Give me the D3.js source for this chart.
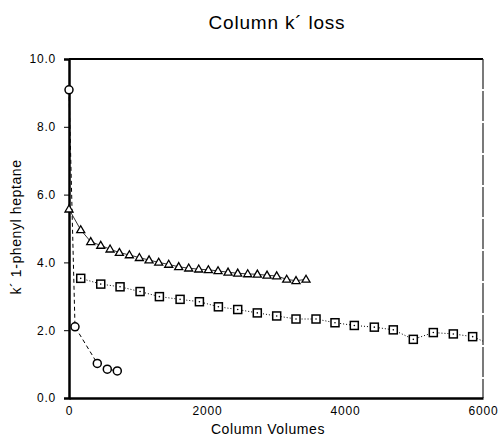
<!DOCTYPE html>
<html>
<head>
<meta charset="UTF-8">
<title>Column k' loss</title>
<style>
  body { margin: 0; background: #fff; }
  svg { font-family: "Liberation Sans", Arial, sans-serif; }
  .axis path, .axis line { stroke: #000; }
  .axis text { font-size: 12px; fill: #000; letter-spacing: 0.8px; }
</style>
</head>
<body>
<script src="https://d3js.org/d3.v7.min.js"></script>
<script>
// circles, dashed line
var circleX = [0, 87, 410, 555, 700];
var circleY = [9.09, 2.1, 1.02, 0.85, 0.8];

// triangles, thin solid line
var triX = [0, 170, 315, 460, 595, 730, 875, 1020, 1160, 1300, 1445, 1590, 1735,
            1880, 2020, 2160, 2305, 2445, 2590, 2730, 2870, 3010, 3155, 3290, 3435];
var triY = [5.57, 4.96, 4.61, 4.50, 4.39, 4.29, 4.22, 4.14, 4.07, 4.00, 3.94, 3.87, 3.83,
            3.80, 3.78, 3.75, 3.71, 3.68, 3.66, 3.65, 3.62, 3.60, 3.50, 3.46, 3.50];

// squares, dotted line (last point lies past the axis end)
var sqX = [170, 460, 740, 1030, 1310, 1610, 1890, 2165, 2445, 2729, 3010, 3290,
           3580, 3855, 4135, 4425, 4700, 4990, 5280, 5570, 5850, 6200];
var sqY = [3.53, 3.36, 3.28, 3.14, 2.99, 2.91, 2.84, 2.69, 2.61, 2.51, 2.42, 2.33,
           2.33, 2.22, 2.14, 2.09, 2.01, 1.73, 1.93, 1.89, 1.81, 1.50];

var xTicks = [0, 2000, 4000, 6000];
var yTicks = [0, 2, 4, 6, 8, 10];

var W = 501, H = 436;
var margin = {top: 59, right: 18, bottom: 38, left: 69};
var width = W - margin.left - margin.right;
var height = H - margin.top - margin.bottom;

var svg = d3.select("body").append("svg")
    .attr("width", W).attr("height", H);

var g = svg.append("g")
    .attr("transform", "translate(" + margin.left + "," + margin.top + ")");

var x = d3.scaleLinear().domain([0, 6000]).range([0, width]);
var y = d3.scaleLinear().domain([0, 10]).range([height, 0]);

// clip only at the right edge
svg.append("defs").append("clipPath").attr("id", "plot")
  .append("rect").attr("x", -20).attr("y", -20).attr("width", width + 20).attr("height", height + 40);

// frame top and right
g.append("line").attr("x1", 0).attr("x2", width).attr("y1", 0).attr("y2", 0)
  .attr("stroke", "#000").attr("stroke-width", 2);
g.append("line").attr("x1", width).attr("x2", width).attr("y1", 0).attr("y2", height)
  .attr("stroke", "#222").attr("stroke-width", 1.2).attr("stroke-dasharray", "30,2");

var xAxis = d3.axisBottom(x).tickValues(xTicks).tickSize(0).tickPadding(8)
  .tickFormat(d3.format("d"));
var yAxis = d3.axisLeft(y).tickValues(yTicks).tickSize(5).tickPadding(8)
  .tickFormat(d3.format(".1f"));

var gx = g.append("g").attr("class", "axis")
  .attr("transform", "translate(0," + height + ")").call(xAxis);
gx.select(".domain").attr("stroke-width", 2.5);

var gy = g.append("g").attr("class", "axis").call(yAxis);
gy.select(".domain").attr("stroke-width", 2.5);

function pts(xs, ys) { return xs.map(function(d, i) { return [d, ys[i]]; }); }
var line = d3.line().x(function(d) { return x(d[0]); }).y(function(d) { return y(d[1]); });

var plot = g.append("g").attr("clip-path", "url(#plot)");

var circles = pts(circleX, circleY);
var tris = pts(triX, triY);
var squares = pts(sqX, sqY);

plot.append("path").attr("d", line(circles)).attr("fill", "none")
  .attr("stroke", "#000").attr("stroke-width", 1).attr("stroke-dasharray", "4,3");
plot.append("path").attr("d", line(tris)).attr("fill", "none")
  .attr("stroke", "#000").attr("stroke-width", 0.8);
plot.append("path").attr("d", line(squares)).attr("fill", "none")
  .attr("stroke", "#000").attr("stroke-width", 1).attr("stroke-dasharray", "1,2");

plot.selectAll(".c").data(circles).enter().append("circle")
  .attr("cx", function(d) { return x(d[0]); })
  .attr("cy", function(d) { return y(d[1]); })
  .attr("r", 4).attr("fill", "#fff").attr("stroke", "#000").attr("stroke-width", 1.5);

var tri = d3.symbol().type(d3.symbolTriangle).size(28);
plot.selectAll(".t").data(tris).enter().append("path")
  .attr("d", tri)
  .attr("transform", function(d) { return "translate(" + x(d[0]) + "," + (y(d[1]) + 0.5) + ")"; })
  .attr("fill", "#fff").attr("stroke", "#000").attr("stroke-width", 1.3);

plot.selectAll(".s").data(squares).enter().append("rect")
  .attr("x", function(d) { return x(d[0]) - 4; })
  .attr("y", function(d) { return y(d[1]) - 4; })
  .attr("width", 8).attr("height", 8)
  .attr("fill", "#fff").attr("stroke", "#000").attr("stroke-width", 1.5);
plot.selectAll(".sd").data(squares).enter().append("circle")
  .attr("cx", function(d) { return x(d[0]); })
  .attr("cy", function(d) { return y(d[1]); })
  .attr("r", 0.8).attr("fill", "#000");

// texts
svg.append("text").attr("x", 277).attr("y", 29).attr("text-anchor", "middle")
  .attr("font-size", 19).attr("letter-spacing", 0.8).text("Column k\u00b4 loss");
svg.append("text").attr("x", 268).attr("y", 434)
  .attr("text-anchor", "middle").attr("font-size", 14).attr("letter-spacing", 0.6)
  .text("Column Volumes");
svg.append("text")
  .attr("transform", "translate(21,227) rotate(-90)")
  .attr("text-anchor", "middle").attr("font-size", 14).attr("letter-spacing", 0.6)
  .text("k\u00b4 1-phenyl heptane");
</script>
</body>
</html>
